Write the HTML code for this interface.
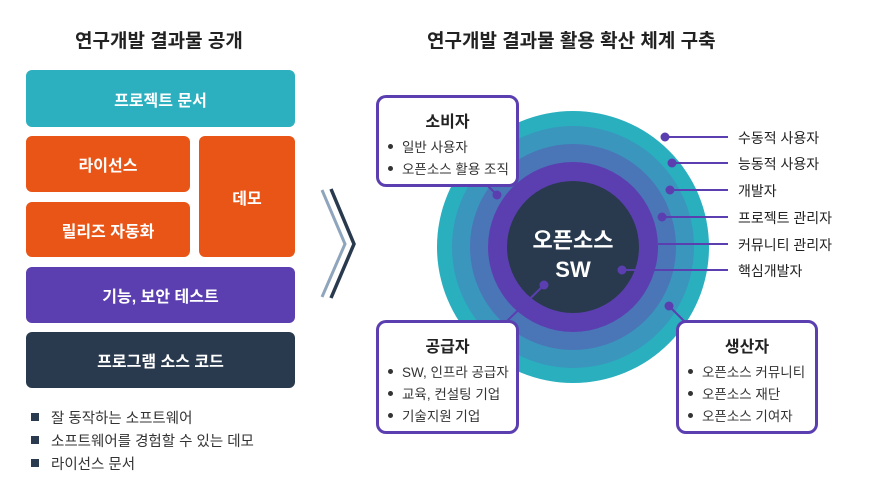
<!DOCTYPE html>
<html><head><meta charset="utf-8"><style>
body{margin:0;width:870px;height:493px;background:#fff;position:relative;overflow:hidden;font-family:"Liberation Sans","Noto Sans CJK KR",sans-serif;color:#222}
.a{position:absolute}
.box{position:absolute;border-radius:6px;color:#fff;font-weight:bold;font-size:16px;display:flex;align-items:center;justify-content:center}
.t{position:absolute;font-weight:bold;font-size:19px;color:#222;white-space:nowrap}
.bl{position:absolute;font-size:14.5px;color:#333;white-space:nowrap}
.sq{display:inline-block;width:8px;height:8px;background:#2a3a4f;margin-right:12px;vertical-align:2px}
.card{position:absolute;background:#fff;border:3px solid #5b3fb0;border-radius:10px;box-sizing:border-box}
.card h4{margin:0;text-align:center;font-size:16px;font-weight:bold;color:#222}
.card ul{margin:0;padding:0;list-style:none}
.card li{font-size:13.5px;color:#333;white-space:nowrap;height:22px;line-height:22px}
.card li:before{content:"";display:inline-block;width:5px;height:5px;border-radius:50%;background:#333;margin:0 9px 0 9px;vertical-align:3px}
.lab{position:absolute;font-size:14px;color:#222;white-space:nowrap;left:738px}
</style></head><body>
<div class="t" style="left:75px;top:26px">연구개발 결과물 공개</div>
<div class="t" style="left:427px;top:26px">연구개발 결과물 활용 확산 체계 구축</div>

<div class="box" style="left:26px;top:70px;width:269px;height:57px;background:#2cb0bf">프로젝트 문서</div>
<div class="box" style="left:26px;top:136px;width:164px;height:56px;background:#e85516">라이선스</div>
<div class="box" style="left:26px;top:202px;width:164px;height:55px;background:#e85516">릴리즈 자동화</div>
<div class="box" style="left:199px;top:136px;width:96px;height:121px;background:#e85516">데모</div>
<div class="box" style="left:26px;top:267px;width:269px;height:56px;background:#5b3fb0">기능, 보안 테스트</div>
<div class="box" style="left:26px;top:332px;width:269px;height:56px;background:#293a4f">프로그램 소스 코드</div>

<div class="bl" style="left:31px;top:407px"><span class="sq"></span>잘 동작하는 소프트웨어</div>
<div class="bl" style="left:31px;top:430px"><span class="sq"></span>소프트웨어를 경험할 수 있는 데모</div>
<div class="bl" style="left:31px;top:453px"><span class="sq"></span>라이선스 문서</div>

<svg class="a" style="left:0;top:0" width="870" height="493">
<polyline points="322,190 345,244 322,297" fill="none" stroke="#8fa5bd" stroke-width="3"/>
<polyline points="331,189 354,244 331,298" fill="none" stroke="#293a4f" stroke-width="3.5"/>
<circle cx="573" cy="247" r="136" fill="#2aafbf"/>
<circle cx="573" cy="247" r="121" fill="#3a96bd"/>
<circle cx="573" cy="247" r="103" fill="#4a76b8"/>
<circle cx="573" cy="247" r="85" fill="#5b3fb0"/>
<circle cx="573" cy="247" r="66" fill="#293a4f"/>
<text x="573" y="248" fill="#fff" font-size="22" font-weight="bold" text-anchor="middle" font-family="Liberation Sans,Noto Sans CJK KR,sans-serif">오픈소스</text>
<text x="573" y="277" fill="#fff" font-size="22" font-weight="bold" text-anchor="middle" font-family="Liberation Sans,sans-serif">SW</text>
<g stroke="#5b3fb0" stroke-width="2" fill="#5b3fb0">
<line x1="665" y1="137" x2="728" y2="137"/><circle cx="665" cy="137" r="3.5"/>
<line x1="672" y1="163" x2="728" y2="163"/><circle cx="672" cy="163" r="3.5"/>
<line x1="670" y1="190" x2="728" y2="190"/><circle cx="670" cy="190" r="3.5"/>
<line x1="662" y1="217" x2="728" y2="217"/><circle cx="662" cy="217" r="3.5"/>
<line x1="658" y1="244" x2="728" y2="244"/>
<line x1="622" y1="270" x2="728" y2="270"/><circle cx="622" cy="270" r="3.5"/>
<line x1="497" y1="195" x2="488" y2="186"/><circle cx="497" cy="195" r="3.5"/>
<line x1="544" y1="285" x2="506" y2="322"/><circle cx="544" cy="285" r="3.5"/>
<line x1="669" y1="306" x2="685" y2="322"/><circle cx="669" cy="306" r="3.5"/>
</g>
</svg>

<div class="lab" style="top:128px">수동적 사용자</div>
<div class="lab" style="top:154px">능동적 사용자</div>
<div class="lab" style="top:181px">개발자</div>
<div class="lab" style="top:208px">프로젝트 관리자</div>
<div class="lab" style="top:235px">커뮤니티 관리자</div>
<div class="lab" style="top:261px">핵심개발자</div>

<div class="card" style="left:376px;top:95px;width:143px;height:92px;padding-top:10px"><h4>소비자</h4><ul style="margin-top:5px"><li>일반 사용자</li><li>오픈소스 활용 조직</li></ul></div>
<div class="card" style="left:376px;top:320px;width:143px;height:114px;padding-top:10px"><h4>공급자</h4><ul style="margin-top:5px"><li>SW, 인프라 공급자</li><li>교육, 컨설팅 기업</li><li>기술지원 기업</li></ul></div>
<div class="card" style="left:676px;top:320px;width:142px;height:114px;padding-top:10px"><h4>생산자</h4><ul style="margin-top:5px"><li>오픈소스 커뮤니티</li><li>오픈소스 재단</li><li>오픈소스 기여자</li></ul></div>
</body></html>
